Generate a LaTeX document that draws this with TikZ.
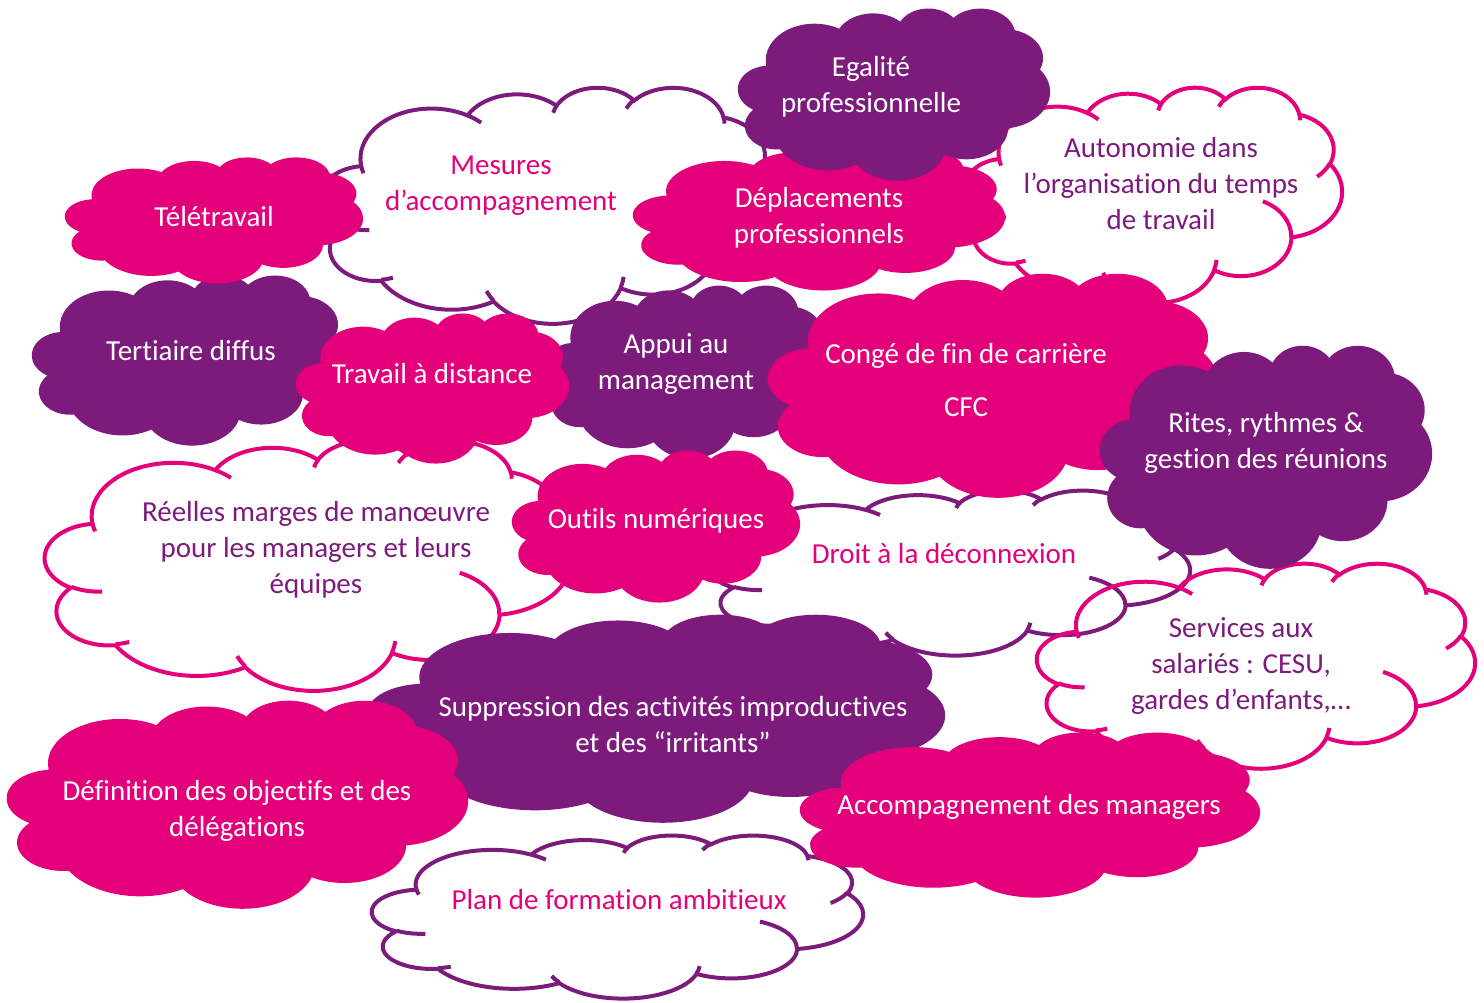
\documentclass[tikz,border=0pt]{standalone}
\usepackage{fontspec}
\setmainfont{Carlito}[Ligatures=NoCommon]
\definecolor{cloudpink}{RGB}{227,0,122}
\definecolor{cloudpurple}{RGB}{125,27,125}
\tikzstyle{pinkcloud}=[fill=cloudpink]
\tikzstyle{purplecloud}=[fill=cloudpurple]
\tikzstyle{pinkline}=[draw=cloudpink, line width=4pt]
\tikzstyle{purpleline}=[draw=cloudpurple, line width=4pt]
\tikzstyle{cloudtext}=[align=center, inner sep=0pt, font=\fontsize{29}{36}\selectfont]
\tikzstyle{whitetext}=[cloudtext, text=white]
\tikzstyle{pinktext}=[cloudtext, text=cloudpink]
\tikzstyle{purpletext}=[cloudtext, text=cloudpurple]
% one bump of the cloud: x radius, y radius, start and sweep angle
\newcommand{\cloudarc}[4]{
  \pgfextra{
    \pgfmathsetmacro\arcst{atan2(#1*sin(#3),#2*cos(#3))}\global\let\arcst\arcst
    \pgfmathsetmacro\arcen{atan2(#1*sin(#3+#4),#2*cos(#3+#4))}\global\let\arcen\arcen
    \pgfmathsetmacro\arcsw{mod(\arcen-\arcst+720,360)}\global\let\arcsw\arcsw
  }
  arc[x radius=#1, y radius=#2, start angle=\arcst, delta angle=\arcsw]
}
\newcommand{\cloudoutline}{
  (39,143.7) \cloudarc{67.53}{91.90}{-190.4875}{123.7805}
  \cloudarc{53.33}{72.67}{-144.1024}{89.9452}
  \cloudarc{43.65}{59.45}{-145.8079}{99.7230}
  \cloudarc{48.57}{65.95}{-130.9861}{117.2417}
  \cloudarc{53.33}{72.73}{-78.7089}{109.0269}
  \cloudarc{67.75}{92.20}{-46.2673}{130.2690}
  \cloudarc{57.85}{78.67}{0.6250}{114.0333}
  \cloudarc{67.52}{92.15}{22.4516}{115.1726}
  \cloudarc{77.20}{105.43}{66.2426}{75.7110}
  \cloudarc{43.60}{59.18}{-274.9421}{146.7356}
  \cloudarc{43.45}{59.45}{-246.8285}{152.5189} -- cycle
}
\newcommand{\cloudinner}{
  (46.93,261.77) \cloudarc{43.45}{59.45}{86.7420}{26.4295}
  (69.28,348.99) \cloudarc{43.60}{59.18}{73.6105}{11.4475}
  (164.78,390.90) \cloudarc{67.52}{92.15}{137.6242}{14.0811}
  (288.27,347.51) \cloudarc{67.52}{92.15}{6.4533}{15.9984}
  (341.29,229.54) \cloudarc{57.85}{78.67}{-70.2924}{70.9174}
  (417.98,153.54) \cloudarc{53.33}{72.73}{30.3180}{27.7515}
  (383.24,54.26) \cloudarc{48.57}{65.95}{-13.7443}{14.8589}
  (290.78,39.52) \cloudarc{48.57}{65.95}{-149.1815}{18.1954}
  (221.41,47.20) \cloudarc{43.65}{59.45}{-163.4943}{17.6864}
  (140.00,51.92) \cloudarc{67.53}{91.90}{-66.7070}{12.3194}
  (41.27,157.89) \cloudarc{67.53}{91.90}{157.6544}{11.8539}
}
% style, left, top, width, height
\newcommand{\drawcloud}[5]{
  \begin{scope}[shift={(#2,#3)}, x=#4pt/432, y=-#5pt/432]
    \path[#1] \cloudoutline;
  \end{scope}
}
\newcommand{\drawcloudline}[5]{
  \begin{scope}[shift={(#2,#3)}, x=#4pt/432, y=-#5pt/432]
    \path[#1] \cloudoutline;
    \path[#1] \cloudinner;
  \end{scope}
}

\begin{document}
\begin{tikzpicture}[x=1pt, y=-1pt]
  \useasboundingbox (0,0) rectangle (1484,1002);

  % outlined clouds
  \drawcloudline{purpleline}{320}{87}{455}{236}
  \node[pinktext] (mesures) at (501,186) {Mesures\\d’accompagnement};
  \drawcloudline{pinkline}{965}{87}{377}{215}
  \node[purpletext] (autonomie) at (1161,184) {Autonomie dans\\l’organisation du temps\\de travail};
  \drawcloudline{pinkline}{45}{440}{525}{250}
  \node[purpletext] (marges) at (316,550) {Réelles marges de manœuvre\\pour les managers et leurs\\équipes};
  \drawcloudline{purpleline}{710}{490}{480}{165}
  \node[pinktext] (droit) at (944,554) {Droit à la déconnexion};
  \drawcloudline{pinkline}{1037}{563}{438}{205}
  \node[purpletext] (services) at (1241,666) {Services aux\\salariés : CESU,\\gardes d’enfants,…};
  \drawcloudline{purpleline}{372}{835}{491}{163}
  \node[pinktext] (formation) at (619,900) {Plan de formation ambitieux};

  % filled clouds
  \drawcloud{purplecloud}{32}{275}{313}{170}
  \node[whitetext] (tertiaire) at (191,351) {Tertiaire diffus};
  \drawcloud{pinkcloud}{65}{157}{298}{126}
  \node[whitetext] (teletravail) at (214,217) {Télétravail};
  \drawcloud{purplecloud}{545}{285}{285}{173}
  \node[whitetext] (appui) at (676,364) {Appui au\\management};
  \drawcloud{pinkcloud}{296}{313}{273}{150}
  \node[whitetext] (travail) at (432,374) {Travail à distance};
  \drawcloud{pinkcloud}{768}{273}{450}{224}
  \node[whitetext] (conge) at (966,380) {Congé de fin de carrière\\[17pt]CFC};
  \drawcloud{purplecloud}{1100}{345}{332}{223}
  \node[whitetext] (rites) at (1266,443) {Rites, rythmes \&\\gestion des réunions};
  \drawcloud{pinkcloud}{633}{148}{372}{142}
  \node[whitetext] (deplacements) at (819,218) {Déplacements\\professionnels};
  \drawcloud{purplecloud}{738}{8}{312}{172}
  \node[whitetext] (egalite) at (871,87) {Egalité\\professionnelle};
  \drawcloud{pinkcloud}{512}{450}{288}{152}
  \node[whitetext] (outils) at (656,521) {Outils numériques};
  \drawcloud{purplecloud}{368}{614}{577}{208}
  \node[whitetext] (suppression) at (673,725) {Suppression des activités improductives\\et des “irritants”};
  \drawcloud{pinkcloud}{7}{700}{461}{208}
  \node[whitetext] (definition) at (237,811) {Définition des objectifs et des\\délégations};
  \drawcloud{pinkcloud}{800}{732}{460}{165}
  \node[whitetext] (accompagnement) at (1029,807) {Accompagnement des managers};
\end{tikzpicture}
\end{document}
